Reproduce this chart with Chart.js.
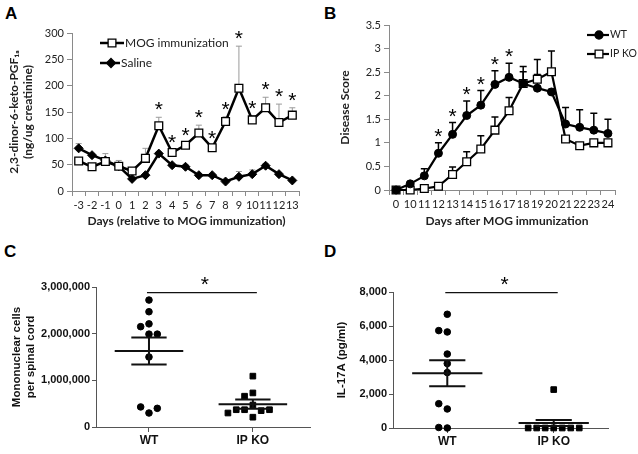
<!DOCTYPE html>
<html>
<head>
<meta charset="utf-8">
<script src="https://cdn.jsdelivr.net/npm/chart.js@4.4.1/dist/chart.umd.min.js"></script>
<style>
  body { margin: 0; width: 638px; height: 454px; background: #fff; position: relative; overflow: hidden; }
  canvas { position: absolute; }
  .tag { position: absolute; font: bold 17px "Liberation Sans", Arial, sans-serif; line-height: 1; color: #000; }
</style>
</head>
<body>
<div class="tag" style="left:5px;top:5px">A</div>
<div class="tag" style="left:324px;top:5px">B</div>
<div class="tag" style="left:4px;top:243px">C</div>
<div class="tag" style="left:324px;top:243px">D</div>
<canvas id="chartA" width="320" height="230" style="left:0;top:0"></canvas>
<canvas id="chartB" width="318" height="230" style="left:320px;top:0"></canvas>
<canvas id="chartC" width="320" height="224" style="left:0;top:230px"></canvas>
<canvas id="chartD" width="318" height="224" style="left:320px;top:230px"></canvas>
<script>
// ---- panel A: urinary prostacyclin metabolite
let daysA = ['-3', '-2', '-1', '0', '1', '2', '3', '4', '5', '6', '7', '8', '9', '10', '11', '12', '13'];
let mogA = [57, 46, 56, 47, 38, 62, 124, 73, 87, 110, 82, 132, 195, 135, 158, 130, 144];
let mogSemA = [3, 2, 15, 11, 3, 19, 16, 5, 5, 15, 3, 9, 80, 8, 20, 35, 14];
let salineA = [81, 68, 58, 47, 23, 30, 71, 49, 46, 30, 30, 18, 27, 32, 48, 32, 20];
let salineSemA = [9, 3, 3, 3, 2, 2, 3, 3, 4, 3, 3, 2, 10, 8, 4, 3, 2];
let starsA = ['3', '4', '5', '6', '7', '8', '9', '10', '11', '12', '13'];

// ---- panel B: clinical score
let daysB = ['0', '10', '11', '12', '13', '14', '15', '16', '17', '18', '19', '20', '21', '22', '23', '24'];
let wtB = [0, 0.13, 0.30, 0.78, 1.18, 1.58, 1.80, 2.24, 2.39, 2.26, 2.16, 2.08, 1.40, 1.33, 1.27, 1.20];
let wtSemB = [0, 0.03, 0.15, 0.22, 0.25, 0.31, 0.31, 0.29, 0.30, 0.25, 0.29, 0.05, 0.35, 0.37, 0.36, 0.30];
let koB = [0, 0, 0.03, 0.08, 0.33, 0.60, 0.87, 1.27, 1.68, 2.26, 2.35, 2.51, 1.08, 0.94, 1.00, 1.00];
let koSemB = [0, 0, 0, 0, 0.16, 0.21, 0.28, 0.28, 0.28, 0.36, 0.42, 0.44, 0, 0, 0, 0];
let starsB = ['12', '13', '14', '15', '16', '17'];

// ---- panels C and D: dot plots
let groups = ['WT', 'IP KO'];
let cellsWT = [2720000, 2470000, 2210000, 2150000, 1990000, 1990000, 1500000, 300000, 430000, 400000];
let cellsKO = [1090000, 730000, 660000, 470000, 370000, 350000, 370000, 370000, 300000, 210000];
let cellsMean = [1630000, 490000];
let cellsSem = [290000, 100000];
let il17WT = [6690, 5650, 5730, 4350, 3790, 3260, 1120, 1430, 0, 30];
let il17KO = [2260, 0, 0, 0, 0, 0, 0, 0];
let il17Mean = [3220, 295];
let il17Sem = [770, 175];
let sigC = 2880000;
let sigD = 7960;

const FA = 'Lato, "Open Sans", sans-serif';
const FC = '"Liberation Sans", Arial, sans-serif';
Chart.defaults.font.family = FA;
Chart.defaults.color = '#222';

function marker(ctx, style, x, y, r, fill) {
  ctx.save();
  ctx.beginPath();
  if (style === 'rect') ctx.rect(x - r * 0.707, y - r * 0.707, r * 1.414, r * 1.414);
  else if (style === 'rectRot') { ctx.moveTo(x, y - r); ctx.lineTo(x + r, y); ctx.lineTo(x, y + r); ctx.lineTo(x - r, y); ctx.closePath(); }
  else ctx.arc(x, y, r, 0, Math.PI * 2);
  ctx.fillStyle = fill;
  ctx.fill();
  ctx.lineWidth = 1.3;
  ctx.strokeStyle = '#000';
  ctx.stroke();
  ctx.restore();
}

// draws a '*' centred on (x, y)
function star(ctx, x, y, size) {
  ctx.save();
  ctx.font = size + 'px ' + FC;
  ctx.fillStyle = '#000';
  ctx.textAlign = 'center';
  ctx.textBaseline = 'alphabetic';
  const m = ctx.measureText('*');
  ctx.fillText('*', x, y + (m.actualBoundingBoxAscent - m.actualBoundingBoxDescent) / 2);
  ctx.restore();
}

// upper error bars, drawn under the markers
const errorBars = {
  id: 'errorBars',
  beforeDatasetsDraw(chart) {
    const ctx = chart.ctx, y = chart.scales.y;
    chart.data.datasets.forEach((ds, di) => {
      if (!ds.errors) return;
      const meta = chart.getDatasetMeta(di);
      ctx.save();
      ctx.strokeStyle = ds.errColor;
      ctx.lineWidth = ds.errWidth;
      ds.data.forEach((v, i) => {
        if (!ds.errors[i]) return;
        const px = meta.data[i].x, p0 = y.getPixelForValue(v), p1 = y.getPixelForValue(v + ds.errors[i]);
        ctx.beginPath();
        ctx.moveTo(px, p0); ctx.lineTo(px, p1);
        ctx.moveTo(px - ds.capW, p1); ctx.lineTo(px + ds.capW, p1);
        ctx.stroke();
      });
      ctx.restore();
    });
  }
};

// significance asterisks above the error bars
const stars = {
  id: 'stars',
  afterDatasetsDraw(chart, args, opts) {
    if (!opts.days) return;
    const y = chart.scales.y, ds = chart.data.datasets[opts.set];
    const meta = chart.getDatasetMeta(opts.set);
    opts.days.forEach(d => {
      const i = chart.data.labels.indexOf(d);
      const top = y.getPixelForValue(ds.data[i] + (ds.errors[i] || 0));
      star(chart.ctx, meta.data[i].x, top - opts.gap, opts.size);
    });
  }
};

// legend with line + marker, like the spreadsheet one
const lineLegend = {
  id: 'lineLegend',
  afterDraw(chart, args, opts) {
    if (!opts.items) return;
    const ctx = chart.ctx;
    opts.items.forEach((it, k) => {
      const ds = chart.data.datasets[k];
      ctx.save();
      ctx.strokeStyle = '#000';
      ctx.lineWidth = ds.borderWidth;
      ctx.beginPath();
      ctx.moveTo(it.x0, it.y); ctx.lineTo(it.x1, it.y);
      ctx.stroke();
      ctx.restore();
      marker(ctx, ds.pointStyle, it.xm, it.y, ds.pointRadius, ds.pointBackgroundColor);
      ctx.save();
      ctx.font = opts.font;
      ctx.fillStyle = '#222';
      ctx.textBaseline = 'middle';
      ctx.fillText(ds.label, it.x1 + 1, it.y);
      ctx.restore();
    });
  }
};

// x-axis caption, centred under the plot area
const xCaption = {
  id: 'xCaption',
  afterDraw(chart, args, opts) {
    if (!opts.text) return;
    const ctx = chart.ctx, a = chart.chartArea;
    ctx.save();
    ctx.font = opts.font;
    ctx.fillStyle = '#222';
    ctx.textAlign = 'center';
    ctx.textBaseline = 'middle';
    ctx.fillText(opts.text, (a.left + a.right) / 2 + opts.shift, a.bottom + opts.drop);
    ctx.restore();
  }
};

// mean +/- SEM bars and the significance bracket of the dot plots
const meanSem = {
  id: 'meanSem',
  afterDatasetsDraw(chart, args, opts) {
    if (!opts.mean) return;
    const ctx = chart.ctx, x = chart.scales.x, y = chart.scales.y;
    ctx.save();
    ctx.strokeStyle = '#111';
    ctx.lineWidth = 2;
    opts.mean.forEach((m, i) => {
      const g = i + 1, s = opts.sem[i];
      const ym = y.getPixelForValue(m), yh = y.getPixelForValue(m + s), yl = y.getPixelForValue(m - s);
      ctx.beginPath();
      ctx.moveTo(x.getPixelForValue(g - 0.33), ym); ctx.lineTo(x.getPixelForValue(g + 0.33), ym);
      ctx.moveTo(x.getPixelForValue(g - 0.17), yh); ctx.lineTo(x.getPixelForValue(g + 0.17), yh);
      ctx.moveTo(x.getPixelForValue(g - 0.17), yl); ctx.lineTo(x.getPixelForValue(g + 0.17), yl);
      ctx.moveTo(x.getPixelForValue(g), yh); ctx.lineTo(x.getPixelForValue(g), yl);
      ctx.stroke();
    });
    const ys = y.getPixelForValue(opts.sig);
    const xa = x.getPixelForValue(1) - 2, xb = x.getPixelForValue(2) + 4;
    ctx.lineWidth = 1.2;
    ctx.beginPath();
    ctx.moveTo(xa, ys); ctx.lineTo(xb, ys);
    ctx.stroke();
    ctx.restore();
    star(ctx, (xa + xb) / 2 + 3, ys - 12, 21);
  }
};

// spread overlapping dots sideways, as in a scatter dot plot
function swarm(values, min, max) {
  const placed = [];
  const near = 0.057 * (max - min);
  return values.map(v => {
    for (const k of [0, -1, 1, -2, 2, -3, 3, -4, 4]) {
      if (!placed.some(p => p.k === k && Math.abs(p.v - v) < near)) {
        placed.push({ k: k, v: v });
        return k * 0.08;
      }
    }
    return 0;
  });
}

function dots(values, group, min, max) {
  const off = swarm(values, min, max);
  return values.map((v, i) => ({ x: group + off[i], y: v }));
}

const gridAB = { drawOnChartArea: false, tickLength: 5, color: '#8a8a8a' };
const tickFontAB = { size: 11 };

let chartA = new Chart(document.getElementById('chartA'), {
  type: 'line',
  data: {
    labels: daysA,
    datasets: [
      {
        label: 'MOG immunization', data: mogA, errors: mogSemA, errColor: '#9a9a9a', errWidth: 1, capW: 3,
        borderColor: '#000', borderWidth: 2.5, pointStyle: 'rect', pointRadius: 5.5,
        pointBackgroundColor: '#fff', pointBorderColor: '#000', pointBorderWidth: 1.3, clip: false
      },
      {
        label: 'Saline', data: salineA, errors: salineSemA, errColor: '#9a9a9a', errWidth: 1, capW: 3,
        borderColor: '#000', borderWidth: 2.5, pointStyle: 'rectRot', pointRadius: 4.5,
        pointBackgroundColor: '#000', pointBorderColor: '#000', pointBorderWidth: 1, clip: false
      }
    ]
  },
  options: {
    responsive: false,
    animation: false,
    layout: { padding: { top: 33, right: 21, left: 0, bottom: 0 } },
    plugins: {
      legend: { display: false },
      tooltip: { enabled: false },
      stars: { days: starsA, set: 0, gap: 11, size: 21 },
      lineLegend: {
        font: '12px ' + FA,
        items: [{ x0: 100, x1: 124, xm: 112, y: 43 }, { x0: 100, x1: 120, xm: 111, y: 63 }]
      },
      xCaption: { text: 'Days (relative to MOG immunization)', font: 'bold 12px ' + FA, shift: 1, drop: 30 }
    },
    scales: {
      x: {
        offset: true,
        grid: Object.assign({ offset: true }, gridAB),
        border: { color: '#8a8a8a' },
        ticks: { font: tickFontAB, padding: 3, maxRotation: 0, autoSkip: false },
        afterFit(s) { s.height = 39; }
      },
      y: {
        min: 0, max: 300,
        grid: gridAB,
        border: { color: '#8a8a8a' },
        ticks: { stepSize: 50, font: tickFontAB, padding: 3 },
        title: { display: true, text: ['2,3-dinor-6-keto-PGF\u2081\u2090', '(ng/ug creatinine)'], font: { size: 12, weight: 'bold' }, padding: { top: 7, bottom: 4 } },
        afterFit(s) { s.width = 72; }
      }
    }
  },
  plugins: [errorBars, stars, lineLegend, xCaption]
});

let chartB = new Chart(document.getElementById('chartB'), {
  type: 'line',
  data: {
    labels: daysB,
    datasets: [
      {
        label: 'WT', data: wtB, errors: wtSemB, errColor: '#000', errWidth: 1.5, capW: 3.5,
        borderColor: '#000', borderWidth: 2.2, pointStyle: 'circle', pointRadius: 4,
        pointBackgroundColor: '#000', pointBorderColor: '#000', pointBorderWidth: 1, clip: false
      },
      {
        label: 'IP KO', data: koB, errors: koSemB, errColor: '#000', errWidth: 1.5, capW: 3.5,
        borderColor: '#000', borderWidth: 2.2, pointStyle: 'rect', pointRadius: 5.5,
        pointBackgroundColor: '#fff', pointBorderColor: '#000', pointBorderWidth: 1.3, clip: false
      }
    ]
  },
  options: {
    responsive: false,
    animation: false,
    layout: { padding: { top: 25, right: 23, left: 0, bottom: 0 } },
    plugins: {
      legend: { display: false },
      tooltip: { enabled: false },
      stars: { days: starsB, set: 0, gap: 10, size: 21 },
      lineLegend: {
        font: '10.5px ' + FA,
        items: [{ x0: 267, x1: 289, xm: 279, y: 35 }, { x0: 267, x1: 289, xm: 279, y: 54 }]
      },
      xCaption: { text: 'Days after MOG immunization', font: 'bold 12px ' + FA, shift: 5, drop: 31 }
    },
    scales: {
      x: {
        offset: true,
        grid: Object.assign({ offset: true }, gridAB),
        border: { color: '#8a8a8a' },
        ticks: { font: tickFontAB, padding: 3, maxRotation: 0, autoSkip: false },
        afterFit(s) { s.height = 40; }
      },
      y: {
        min: 0, max: 3.5,
        grid: gridAB,
        border: { color: '#8a8a8a' },
        ticks: { stepSize: 0.5, font: tickFontAB, padding: 3, callback: v => String(v) },
        title: { display: true, text: 'Disease Score', font: { size: 12, weight: 'bold' }, padding: { top: 18, bottom: 4 } },
        afterFit(s) { s.width = 69; }
      }
    }
  },
  plugins: [errorBars, stars, lineLegend, xCaption]
});

function dotChart(id, wt, ko, max, step, title, titlePad, mean, sem, sig, pad, yWidth, xHeight, xMax) {
  return new Chart(document.getElementById(id), {
    type: 'scatter',
    data: {
      datasets: [
        { label: groups[0], data: dots(wt, 1, 0, max), pointStyle: 'circle', pointRadius: 3.3, backgroundColor: '#000', borderColor: '#000', clip: false },
        { label: groups[1], data: dots(ko, 2, 0, max), pointStyle: 'rect', pointRadius: 4, backgroundColor: '#000', borderColor: '#000', clip: false }
      ]
    },
    options: {
      responsive: false,
      animation: false,
      layout: { padding: pad },
      plugins: {
        legend: { display: false },
        tooltip: { enabled: false },
        meanSem: { mean: mean, sem: sem, sig: sig }
      },
      scales: {
        x: {
          type: 'linear', min: 0.49, max: xMax,
          afterBuildTicks(s) { s.ticks = groups.map((g, i) => ({ value: i + 1 })); },
          grid: { drawOnChartArea: false, tickLength: 5, color: '#555' },
          border: { color: '#555' },
          ticks: { callback: v => groups[v - 1], font: { family: FC, size: 12, weight: 'bold' }, color: '#111', padding: 1, maxRotation: 0 },
          afterFit(s) { s.height = xHeight; }
        },
        y: {
          min: 0, max: max,
          grid: { drawOnChartArea: false, tickLength: 4, color: '#555' },
          border: { color: '#555' },
          ticks: { stepSize: step, callback: v => v.toLocaleString('en-US'), font: { family: FC, size: 11, weight: 'bold' }, color: '#111', padding: 2 },
          title: { display: true, text: title, font: { family: FC, size: 11.5, weight: 'bold' }, color: '#111', padding: { top: titlePad, bottom: 6 } },
          afterFit(s) { s.width = yWidth; }
        }
      }
    },
    plugins: [meanSem]
  });
}

let chartC = dotChart('chartC', cellsWT, cellsKO, 3000000, 1000000, ['Mononuclear cells', 'per spinal cord'], 10,
  cellsMean, cellsSem, sigC, { top: 57, right: 10, left: 0, bottom: 0 }, 96, 27, 2.55);
let chartD = dotChart('chartD', il17WT, il17KO, 8000, 2000, 'IL-17A (pg/ml)', 15,
  il17Mean, il17Sem, sigD, { top: 62, right: 30, left: 0, bottom: 0 }, 73, 26, 2.51);
</script>
</body>
</html>
